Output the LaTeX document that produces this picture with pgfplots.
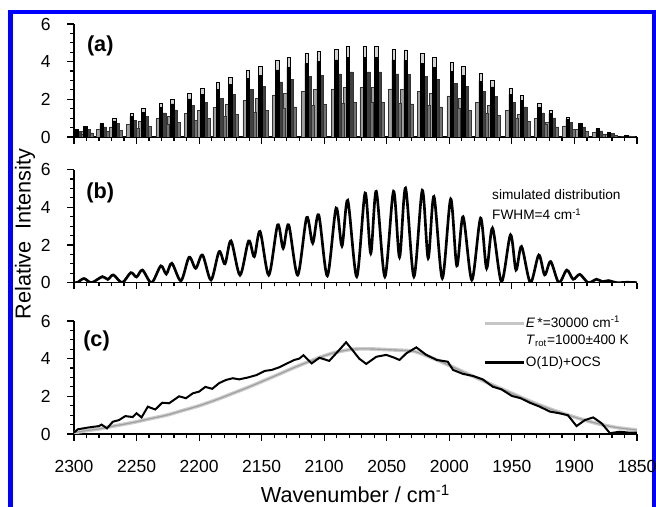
\documentclass[border=0pt]{standalone}
\usepackage{fontspec}
\setmainfont{Liberation Sans}
\usepackage{pgfplots}
\usepackage{pgfplotstable}
\pgfplotsset{compat=1.18}
\definecolor{frameblue}{RGB}{0,0,255}

% stick spectrum: main line position/height, inner black part, side lines
\pgfplotstableread{
p h hi pl hl pr hr pq hq
2298 0.40 0.35 2300.6 0.00 2295.4 0.29 2293 0.15
2291 0.57 0.50 2293.6 0.31 2288.4 0.41 2286 0.22
2278 0.75 0.66 2280.6 0.41 2275.4 0.54 2273 0.29
2268 0.98 0.86 2270.6 0.54 2265.4 0.71 2263 0.37
2254 1.24 1.09 2256.6 0.68 2251.4 0.89 2249 0.47
2244.5 1.50 1.32 2247.1 0.83 2241.9 1.08 2239.5 0.57
2230.5 1.78 1.57 2233.1 0.98 2227.9 1.28 2225.5 0.68
2221.5 2.00 1.76 2224.1 1.10 2218.9 1.44 2216.5 0.76
2208 2.30 2.02 2210.6 1.27 2205.4 1.66 2203 0.87
2197.5 2.57 2.26 2200.1 1.41 2194.9 1.85 2192.5 0.98
2185 2.88 2.53 2187.6 1.58 2182.4 2.07 2180 1.09
2175 3.16 2.78 2177.6 1.74 2172.4 2.28 2170 1.20
2161 3.52 3.10 2163.6 1.94 2158.4 2.53 2156 1.34
2151 3.73 3.28 2153.6 2.05 2148.4 2.69 2146 1.42
2137.5 4.05 3.56 2140.1 2.23 2134.9 2.92 2132.5 1.54
2128.5 4.22 3.71 2131.1 2.32 2125.9 3.04 2123.5 1.60
2114 4.44 3.91 2116.6 2.44 2111.4 3.20 2109 1.69
2104.5 4.56 4.01 2107.1 2.51 2101.9 3.28 2099.5 1.73
2090.5 4.65 4.09 2093.1 2.56 2087.9 3.35 2085.5 1.77
2081 4.80 4.22 2083.6 2.64 2078.4 3.46 2076 1.82
2067.5 4.80 4.22 2070.1 2.64 2064.9 3.46 2062.5 1.82
2058.5 4.80 4.22 2061.1 2.64 2055.9 3.46 2053.5 1.82
2044.5 4.65 4.09 2047.1 2.56 2041.9 3.35 2039.5 1.77
2035 4.62 4.07 2037.6 2.54 2032.4 3.33 2030 1.76
2021.5 4.44 3.91 2024.1 2.44 2018.9 3.20 2016.5 1.69
2012 4.22 3.71 2014.6 2.32 2009.4 3.04 2007 1.60
1998 3.96 3.48 2000.6 2.18 1995.4 2.85 1993 1.50
1989 3.73 3.28 1991.6 2.05 1986.4 2.69 1984 1.42
1975 3.37 2.97 1977.6 1.85 1972.4 2.43 1970 1.28
1965.5 3.02 2.66 1968.1 1.66 1962.9 2.17 1960.5 1.15
1951 2.57 2.26 1953.6 1.41 1948.4 1.85 1946 0.98
1942 2.22 1.95 1944.6 1.22 1939.4 1.60 1937 0.84
1928 1.78 1.57 1930.6 0.98 1925.4 1.28 1923 0.68
1919 1.42 1.25 1921.6 0.78 1916.4 1.02 1914 0.54
1905.5 1.07 0.94 1908.1 0.59 1902.9 0.77 1900.5 0.41
1895.5 0.75 0.66 1898.1 0.41 1892.9 0.54 1890.5 0.29
1881.5 0.44 0.39 1884.1 0.24 1878.9 0.32 1876.5 0.17
1872.5 0.27 0.24 1875.1 0.15 1869.9 0.19 1867.5 0.10
1858.5 0.09 0.08 1861.1 0.05 1855.9 0.06 1853.5 0.03
}\sticks

% simulated distribution, peaks and valleys
\pgfplotstableread{
x y
2300 0.0
2297 0.02
2292 0.22
2286 0.0
2277.3 0.32
2273 0.17
2268.5 0.41
2261.5 0.0
2254.6 0.53
2250 0.30
2245.3 0.67
2238 0.0
2230.6 0.89
2226.2 0.46
2221.8 1.03
2214.5 0.10
2208 1.35
2202.7 0.76
2197.3 1.47
2190.5 0.14
2184 1.65
2179.3 1.00
2174.5 2.22
2167.3 0.40
2160.4 2.22
2155.9 1.38
2151.3 2.72
2144.3 0.40
2137.2 3.07
2132.8 1.83
2128.4 3.07
2121.2 0.40
2114 3.46
2109.2 2.10
2104.4 3.60
2097.5 0.36
2090.5 3.96
2085.8 1.95
2081.2 4.37
2074 0.32
2067.3 4.76
2062.8 1.56
2058.4 4.85
2051.5 0.32
2044.6 4.85
2039.8 1.35
2035 5.02
2028.3 0.32
2021.6 4.90
2016.9 1.30
2012.3 4.58
2005.6 0.23
1998.9 4.44
1994 0.89
1989 3.50
1982 0.14
1975 3.43
1970.2 0.76
1965.5 2.90
1958.3 0.05
1951.1 2.54
1946.7 0.67
1942.3 1.92
1935.2 0.0
1928.5 1.47
1923.8 0.41
1919 1.12
1912.5 0.0
1906.1 0.67
1901 0.18
1895.7 0.44
1889 0.0
1882.3 0.18
1877.6 0.05
1873 0.11
1866 0.0
1858 0.02
1850 0.0
}\simdist

% experiment O(1D)+OCS
\pgfplotstableread{
x y
2300 0.07
2297 0.25
2288 0.35
2280 0.42
2278 0.50
2273.6 0.30
2269 0.65
2264 0.74
2259 0.95
2253 0.90
2250 1.10
2246 0.88
2241 1.45
2235 1.30
2229.5 1.66
2224 1.63
2216 2.00
2210.5 1.90
2205 2.16
2200 2.25
2195 2.50
2189.5 2.40
2184 2.70
2178.5 2.87
2173 2.96
2168 2.90
2161 3.00
2154 3.13
2147.5 3.35
2142 3.40
2136 3.54
2130.5 3.72
2124 3.93
2120 4.00
2116.6 4.18
2110 3.75
2103.8 4.05
2096 3.88
2088 4.46
2082.5 4.87
2077 4.42
2072 4.00
2066.4 3.72
2058.4 4.10
2050.4 4.20
2044 4.05
2039.8 3.93
2034.4 4.28
2026.4 4.60
2018.4 4.20
2010 3.93
2001.3 3.84
1997 3.40
1989 3.19
1981 3.08
1973.3 2.90
1965.3 2.51
1958.3 2.37
1950 2.02
1943 1.90
1935.7 1.66
1927.7 1.45
1919.7 1.19
1912 1.10
1905.3 1.00
1898.3 0.42
1891.6 0.74
1885 0.88
1878.3 0.57
1871.6 0.04
1864 0.12
1856 0.07
1850 0.07
}\expt

% simulation E*=30000, Trot=1000 K
\pgfplotstableread{
x y
2300 0.07
2290 0.18
2280 0.27
2270 0.40
2260 0.52
2250 0.65
2240 0.80
2226 1.00
2213 1.25
2200 1.50
2187 1.80
2173 2.16
2160 2.50
2150 2.78
2137 3.15
2125 3.50
2112 3.85
2100 4.15
2090 4.35
2077 4.50
2065 4.52
2050 4.48
2040 4.45
2029 4.40
2020 4.20
2010 3.93
1997 3.55
1984 3.15
1967 2.65
1950 2.16
1934 1.70
1917 1.27
1901 0.92
1890 0.70
1877 0.48
1865 0.33
1850 0.21
}\simfit

\pgfplotsset{
  panel/.style={
    scale only axis, width=337.8pt, height=67.8pt,
    xmin=1850, xmax=2300, ymin=0, ymax=6, x dir=reverse,
    axis x line*=bottom, axis y line*=left,
    clip mode=individual,
    xtick distance=50, minor x tick num=4,
    ytick={0,2,4,6}, minor y tick num=3,
    tick align=outside, major tick length=4pt, minor tick length=2.2pt,
    axis line style={line width=0.9pt},
    every tick/.style={black, line width=0.7pt},
    tick label style={font=\fontsize{10.5}{12}\selectfont},
    yticklabel style={xshift=-6.5pt},
    xticklabel style={yshift=-8pt},
    /pgf/number format/assume math mode=true,
    /pgf/number format/1000 sep={},
  },
  stick/.style={ybar, bar width=2.8, bar shift=0pt, line width=0.3pt},
}

\begin{document}
\begin{tikzpicture}
\useasboundingbox (0,0) rectangle (393.6pt,304.2pt);
\draw[frameblue, line width=2.7pt] (6.4pt,-5pt) -- (6.4pt,297.1pt) -- (392.6pt,297.1pt) -- (392.6pt,-5pt);

% (a)
\begin{axis}[panel, at={(44.4pt,222pt)}, anchor=south west, xticklabels={}]
\addplot[stick, draw=black!80, fill=gray!75] table[x=pl, y=hl] {\sticks};
\addplot[stick, draw=black!80, fill=black!55] table[x=pq, y=hq] {\sticks};
\addplot[stick, draw=black!80, fill=black!75] table[x=pr, y=hr] {\sticks};
\addplot[stick, draw=black, fill=gray!35] table[x=p, y=h] {\sticks};
\addplot[stick, draw=black, fill=black] table[x=p, y=hi] {\sticks};
\node[font=\bfseries\fontsize{13}{15}\selectfont] at (axis cs:2279,4.85) {(a)};
\end{axis}

% (b)
\begin{axis}[panel, at={(44.4pt,134.6pt)}, anchor=south west, xticklabels={}]
\addplot[black, line width=1.6pt, smooth] table {\simdist};
\node[font=\bfseries\fontsize{13}{15}\selectfont] at (axis cs:2279,4.74) {(b)};
\node[anchor=base west, inner sep=0pt, font=\fontsize{8.2}{9}\selectfont] at (axis cs:1966,4.42) {simulated distribution};
\node[anchor=base west, inner sep=0pt, font=\fontsize{8.2}{9}\selectfont] at (axis cs:1966,3.34) {FWHM=4 cm\textsuperscript{-1}};
\end{axis}

% (c)
\begin{axis}[panel, at={(44.4pt,43.8pt)}, anchor=south west]
\addplot[gray!40, line width=2.2pt, smooth] table {\simfit};
\addplot[gray!75, line width=0.7pt, smooth] table {\simfit};
\addplot[black, line width=1.2pt] table {\expt};
\node[font=\bfseries\fontsize{13}{15}\selectfont] at (axis cs:2282,4.94) {(c)};
\draw[gray!45, line width=2pt] (axis cs:1971.5,5.88) -- (axis cs:1940.3,5.88);
\draw[black, line width=1.4pt] (axis cs:1971.5,3.79) -- (axis cs:1940.3,3.79);
\node[anchor=base west, inner sep=0pt, font=\fontsize{8.2}{9}\selectfont] at (axis cs:1939,5.68) {\textit{E}\,*=30000 cm\textsuperscript{-1}};
\node[anchor=base west, inner sep=0pt, font=\fontsize{8.2}{9}\selectfont] at (axis cs:1939,4.73) {\textit{T}\textsubscript{rot}=1000\textpm400 K};
\node[anchor=base west, inner sep=0pt, font=\fontsize{8.2}{9}\selectfont] at (axis cs:1939,3.56) {O(1D)+OCS};
\end{axis}

\node[rotate=90, font=\fontsize{13}{15}\selectfont] at (15pt,163.8pt) {Relative\ \ Intensity};
\node[anchor=base, font=\fontsize{13}{15}\selectfont] at (213.3pt,2.4pt) {Wavenumber / cm\textsuperscript{-1}};
\end{tikzpicture}
\end{document}
